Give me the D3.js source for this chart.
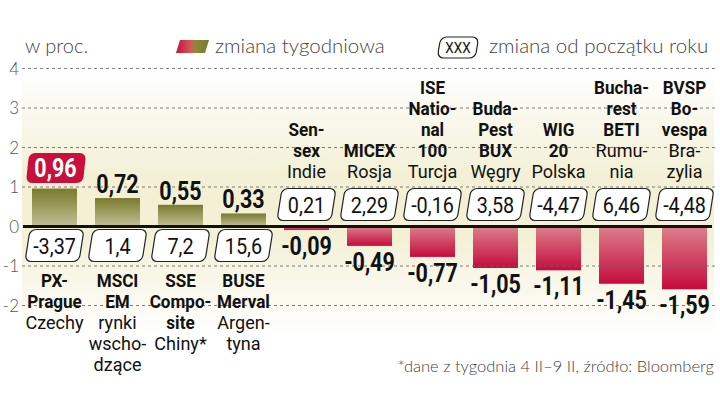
<!DOCTYPE html>
<html><head><meta charset="utf-8">
<script src="https://cdn.jsdelivr.net/npm/d3@7"></script>
<style>
body{margin:0;background:#fff;}
svg{display:block;}
.cond{font-family:"Roboto","Liberation Sans",sans-serif;}
.light{font-family:"Lato","Open Sans",sans-serif;font-weight:300;}
</style></head>
<body>
<svg id="c" width="720" height="405"></svg>
<script>
const categories = ["PX-Prague","MSCI EM","SSE Composite","BUSE Merval","Sensex","MICEX","ISE National 100","Budapest BUX","WIG 20","Bucharest BETI","BVSP Bovespa"];
const nameLines = [["PX-","Prague"],["MSCI","EM"],["SSE","Compo-","site"],["BUSE","Merval"],["Sen-","sex"],["MICEX"],["ISE","Natio-","nal","100"],["Buda-","Pest","BUX"],["WIG","20"],["Bucha-","rest","BETI"],["BVSP","Bo-","vespa"]];
const countryLines = [["Czechy"],["rynki","wscho-","dzące"],["Chiny*"],["Argen-","tyna"],["Indie"],["Rosja"],["Turcja"],["Węgry"],["Polska"],["Rumu-","nia"],["Bra-","zylia"]];
const weekly = [0.96,0.72,0.55,0.33,-0.09,-0.49,-0.77,-1.05,-1.11,-1.45,-1.59];
const ytd = ["-3,37","1,4","7,2","15,6","0,21","2,29","-0,16","3,58","-4,47","6,46","-4,48"];
const yTicks = [-2,-1,0,1,2,3,4];

const svg = d3.select("#c");
const fmt = v => (v<0?"-":"") + Math.abs(v).toFixed(2).replace(".",",");

const y = d3.scaleLinear().domain([-2,4]).range([305.5,68.5]);
const x = d3.scaleBand().domain(categories).range([23,716]).paddingInner(18/63).paddingOuter(9/63);

function ctext(g, px, py, str, size, weight, fill, sx){
  return g.append("text").attr("class","cond")
    .attr("transform",`translate(${px},${py}) scale(${sx},1)`)
    .attr("text-anchor","middle").attr("font-size",size)
    .attr("font-weight",weight).attr("fill",fill).text(str);
}

const defs = svg.append("defs");
const bg = defs.append("linearGradient").attr("id","bg").attr("x1",0).attr("y1",0).attr("x2",0).attr("y2",1);
bg.append("stop").attr("offset","0%").attr("stop-color","#ffffff");
bg.append("stop").attr("offset","40%").attr("stop-color","#f3f0d6");
bg.append("stop").attr("offset","62%").attr("stop-color","#f3f0d6");
bg.append("stop").attr("offset","100%").attr("stop-color","#ffffff");
const gp = defs.append("linearGradient").attr("id","gpos").attr("x1",0).attr("y1",0).attr("x2",0).attr("y2",1);
gp.append("stop").attr("offset","0%").attr("stop-color","#7a7a2e");
gp.append("stop").attr("offset","100%").attr("stop-color","#c2c095");
const gn = defs.append("linearGradient").attr("id","gneg").attr("x1",0).attr("y1",0).attr("x2",0).attr("y2",1);
gn.append("stop").attr("offset","0%").attr("stop-color","#dc7f8c");
gn.append("stop").attr("offset","100%").attr("stop-color","#c40c3c");
const gl = defs.append("linearGradient").attr("id","gleg").attr("x1",0).attr("y1",0).attr("x2",1).attr("y2",0);
gl.append("stop").attr("offset","0%").attr("stop-color","#c8103c");
gl.append("stop").attr("offset","45%").attr("stop-color","#d25a5a");
gl.append("stop").attr("offset","60%").attr("stop-color","#8a8a3a");
gl.append("stop").attr("offset","100%").attr("stop-color","#7a7a30");

// background band
svg.append("rect").attr("x",22).attr("y",y(4)).attr("width",692).attr("height",y(-2)-y(4)+30).attr("fill","url(#bg)");

// y tick labels
svg.append("g").selectAll("text").data(yTicks).join("text")
  .attr("class","light").attr("x",19).attr("y",d=>y(d)+6)
  .attr("text-anchor","end").attr("font-size",17).attr("fill","#555")
  .text(d=>d);

// bars
svg.append("g").selectAll("rect").data(weekly).join("rect")
  .attr("x",(d,i)=>x(categories[i])).attr("width",x.bandwidth())
  .attr("y",d=>d>0?y(d):y(0)).attr("height",d=>Math.abs(y(d)-y(0)))
  .attr("fill",d=>d>0?"url(#gpos)":"url(#gneg)");

// gridlines (drawn over)
svg.append("g").selectAll("line").data(yTicks.filter(d=>d!==0)).join("line")
  .attr("x1",22).attr("x2",716).attr("y1",d=>y(d)).attr("y2",d=>y(d))
  .attr("stroke","#666").attr("stroke-width",1).attr("stroke-dasharray","3,3").attr("opacity",0.85);

// zero line
svg.append("line").attr("x1",23).attr("x2",712).attr("y1",y(0)).attr("y2",y(0))
  .attr("stroke","#111").attr("stroke-width",3);

// YTD boxes
function slantBox(g, cx, top, w, h){
  g.append("rect").attr("x",cx-w/2).attr("y",top).attr("width",w).attr("height",h)
   .attr("rx",6).attr("ry",6).attr("fill","#fff").attr("stroke","#222").attr("stroke-width",1.2)
   .attr("transform",`translate(${cx},${top+h/2}) skewX(-9) translate(${-cx},${-(top+h/2)})`);
}
const boxes = svg.append("g");
weekly.forEach((d,i)=>{
  const cx = x(categories[i]) + x.bandwidth()/2;
  const top = d>0 ? y(0)+3 : y(0)-38;
  slantBox(boxes, cx, top, 54, 32);
  ctext(boxes, cx, top+24, ytd[i], 22, "normal", "#111", 0.9);
});

// value labels
const vl = svg.append("g");
weekly.forEach((d,i)=>{
  const cx = x(categories[i]) + x.bandwidth()/2;
  if(i===0){
    vl.append("rect").attr("x",cx-27).attr("y",153).attr("width",57).attr("height",30).attr("rx",6)
      .attr("fill","#c8103c")
      .attr("transform",`translate(${cx},168) skewX(-6) translate(${-cx},-168)`);
    ctext(vl, cx+1, 177, fmt(d), 25, "bold", "#fff", 0.86);
  } else if(d>0){
    ctext(vl, cx, y(d)-5, fmt(d), 25, "bold", "#111", 0.86);
  } else {
    ctext(vl, cx, y(d)+25, fmt(d), 25, "bold", "#111", 0.86);
  }
});

// category labels
const cl = svg.append("g");
const lh = 21;
weekly.forEach((d,i)=>{
  const cx = x(categories[i]) + x.bandwidth()/2;
  const lines = nameLines[i].map(t=>({t,b:true})).concat(countryLines[i].map(t=>({t,b:false})));
  let startY;
  if(d>0){ startY = 287; } else { startY = 178 - (lines.length-1)*lh; }
  lines.forEach((l,k)=>{
    ctext(cl, cx, startY+k*lh, l.t, 19, l.b?"bold":"normal", "#111", l.b?0.9:0.95);
  });
});

// legend
svg.append("text").attr("class","light").attr("x",25).attr("y",53).attr("font-size",20).attr("fill","#444").text("w proc.");
svg.append("path").attr("d","M180,40 L209,40 L205,53 L176,53 Z").attr("fill","url(#gleg)");
svg.append("text").attr("class","light").attr("x",215).attr("y",53).attr("font-size",20.5).attr("fill","#444").text("zmiana tygodniowa");
slantBox(svg, 458, 37, 38, 21);
ctext(svg, 458, 53, "XXX", 15, "normal", "#111", 0.9);
svg.append("text").attr("class","light").attr("x",489).attr("y",53).attr("font-size",20.5).attr("fill","#444").text("zmiana od początku roku");

// footnote
svg.append("text").attr("class","light").attr("x",714).attr("y",372).attr("text-anchor","end")
  .attr("font-size",16.5).attr("fill","#444").text("*dane z tygodnia 4 II–9 II, źródło: Bloomberg");
</script>
</body></html>
